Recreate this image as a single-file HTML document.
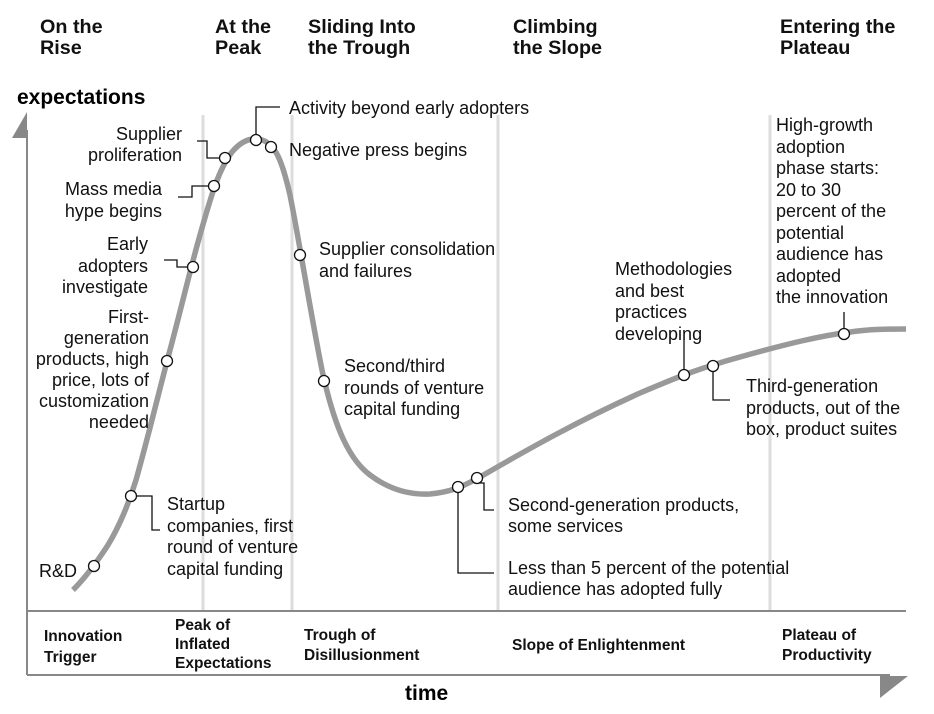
<!DOCTYPE html>
<html><head><meta charset="utf-8"><style>
html,body{margin:0;padding:0;background:#fff;}
svg{display:block;font-family:"Liberation Sans",Arial,sans-serif;}
.t{font-size:18px;fill:#111;}
.h{font-size:19.8px;font-weight:bold;fill:#111;}
.b{font-size:15.5px;font-weight:bold;fill:#111;}
</style></head><body>
<svg width="934" height="714" viewBox="0 0 934 714" xmlns="http://www.w3.org/2000/svg">
<g stroke="#ddd" stroke-width="3">
<line x1="203" y1="115" x2="203" y2="611"/><line x1="292" y1="115" x2="292" y2="611"/>
<line x1="498" y1="115" x2="498" y2="611"/><line x1="770" y1="115" x2="770" y2="611"/>
</g>
<g stroke="#888" stroke-width="2" fill="none">
<line x1="27" y1="130" x2="27" y2="675"/>
<line x1="27" y1="611" x2="906" y2="611"/>
<line x1="27" y1="675" x2="890" y2="675"/>
</g>
<polygon points="27,112 27,138 12,138" fill="#888"/>
<polygon points="880,676 908,676 880,698" fill="#888"/>
<path d="M73,590 C85,578 95,565 108,545 C120,525 128,505 136,480 C150,430 158,395 170,350 C182,305 190,270 200,235 C210,200 218,170 232,152 C242,140 252,137 262,140 C275,144 282,160 290,195 C300,245 310,310 322,370 C335,430 350,460 370,475 C390,490 410,495 430,494 C450,492 460,488 480,477 C530,448 580,420 640,393 C680,376 700,368 740,357 C790,343 820,336 850,332 C870,329 890,329 906,329" stroke="#999" stroke-width="5.5" fill="none"/>
<g stroke="#111" stroke-width="1.3" fill="none">
<polyline points="197,141 207,141 207,158 219,158"/>
<polyline points="178,197 192,197 192,186 208,186"/>
<polyline points="164,260 177,260 177,267 188,267"/>
<polyline points="256,134 256,107 280,107"/>
<polyline points="137,496 152,496 152,530 160,530"/>
<polyline points="479,483 484,483 484,510 494,510"/>
<polyline points="458,492 458,573 494,573"/>
<polyline points="684,369 684,340"/>
<polyline points="713,371 713,400 730,400"/>
<polyline points="844,328 844,312"/>
</g>
<g fill="#fff" stroke="#111" stroke-width="1.3">
<circle cx="94" cy="566" r="5.5"/><circle cx="131" cy="496" r="5.5"/><circle cx="167" cy="361" r="5.5"/>
<circle cx="193" cy="267" r="5.5"/><circle cx="214" cy="186" r="5.5"/><circle cx="225" cy="158" r="5.5"/>
<circle cx="256" cy="140" r="5.5"/><circle cx="271" cy="147" r="5.5"/><circle cx="300" cy="255" r="5.5"/>
<circle cx="324" cy="381" r="5.5"/><circle cx="458" cy="487" r="5.5"/><circle cx="477" cy="478" r="5.5"/>
<circle cx="684" cy="375" r="5.5"/><circle cx="713" cy="366" r="5.5"/><circle cx="844" cy="334" r="5.5"/>
</g>
<text class="h" x="40" y="33">On the</text><text class="h" x="40" y="54">Rise</text>
<text class="h" x="215" y="33">At the</text><text class="h" x="215" y="54">Peak</text>
<text class="h" x="308" y="33">Sliding Into</text><text class="h" x="308" y="54">the Trough</text>
<text class="h" x="513" y="33">Climbing</text><text class="h" x="513" y="54">the Slope</text>
<text class="h" x="780" y="33">Entering the</text><text class="h" x="780" y="54">Plateau</text>
<text x="17" y="104" style="font-size:21px;font-weight:bold">expectations</text>
<text x="405" y="700" style="font-size:21px;font-weight:bold">time</text>
<g class="t" text-anchor="end">
<text x="182" y="140">Supplier</text><text x="182" y="161">proliferation</text>
<text x="162" y="195">Mass media</text><text x="162" y="217">hype begins</text>
<text x="148" y="250">Early</text><text x="148" y="272">adopters</text><text x="148" y="293">investigate</text>
<text x="149" y="323">First-</text><text x="149" y="344">generation</text><text x="149" y="365">products, high</text><text x="149" y="386">price, lots of</text><text x="149" y="407">customization</text><text x="149" y="428">needed</text>
</g>
<g class="t">
<text x="39" y="577">R&amp;D</text>
<text x="167" y="510">Startup</text><text x="167" y="532">companies, first</text><text x="167" y="553">round of venture</text><text x="167" y="575">capital funding</text>
<text x="289" y="114">Activity beyond early adopters</text>
<text x="289" y="156">Negative press begins</text>
<text x="319" y="255">Supplier consolidation</text><text x="319" y="277">and failures</text>
<text x="344" y="372">Second/third</text><text x="344" y="394">rounds of venture</text><text x="344" y="415">capital funding</text>
<text x="508" y="511">Second-generation products,</text><text x="508" y="532">some services</text>
<text x="508" y="574">Less than 5 percent of the potential</text><text x="508" y="595">audience has adopted fully</text>
<text x="615" y="275">Methodologies</text><text x="615" y="297">and best</text><text x="615" y="318">practices</text><text x="615" y="340">developing</text>
<text x="746" y="392">Third-generation</text><text x="746" y="414">products, out of the</text><text x="746" y="435">box, product suites</text>
<text x="776" y="131">High-growth</text><text x="776" y="153">adoption</text><text x="776" y="174">phase starts:</text><text x="776" y="196">20 to 30</text><text x="776" y="217">percent of the</text><text x="776" y="239">potential</text><text x="776" y="260">audience has</text><text x="776" y="282">adopted</text><text x="776" y="303">the innovation</text>
</g>
<g class="b">
<text x="44" y="641">Innovation</text><text x="44" y="662">Trigger</text>
<text x="175" y="630">Peak of</text><text x="175" y="649">Inflated</text><text x="175" y="668">Expectations</text>
<text x="304" y="640">Trough of</text><text x="304" y="660">Disillusionment</text>
<text x="512" y="650">Slope of Enlightenment</text>
<text x="782" y="640">Plateau of</text><text x="782" y="660">Productivity</text>
</g>
</svg>
</body></html>
